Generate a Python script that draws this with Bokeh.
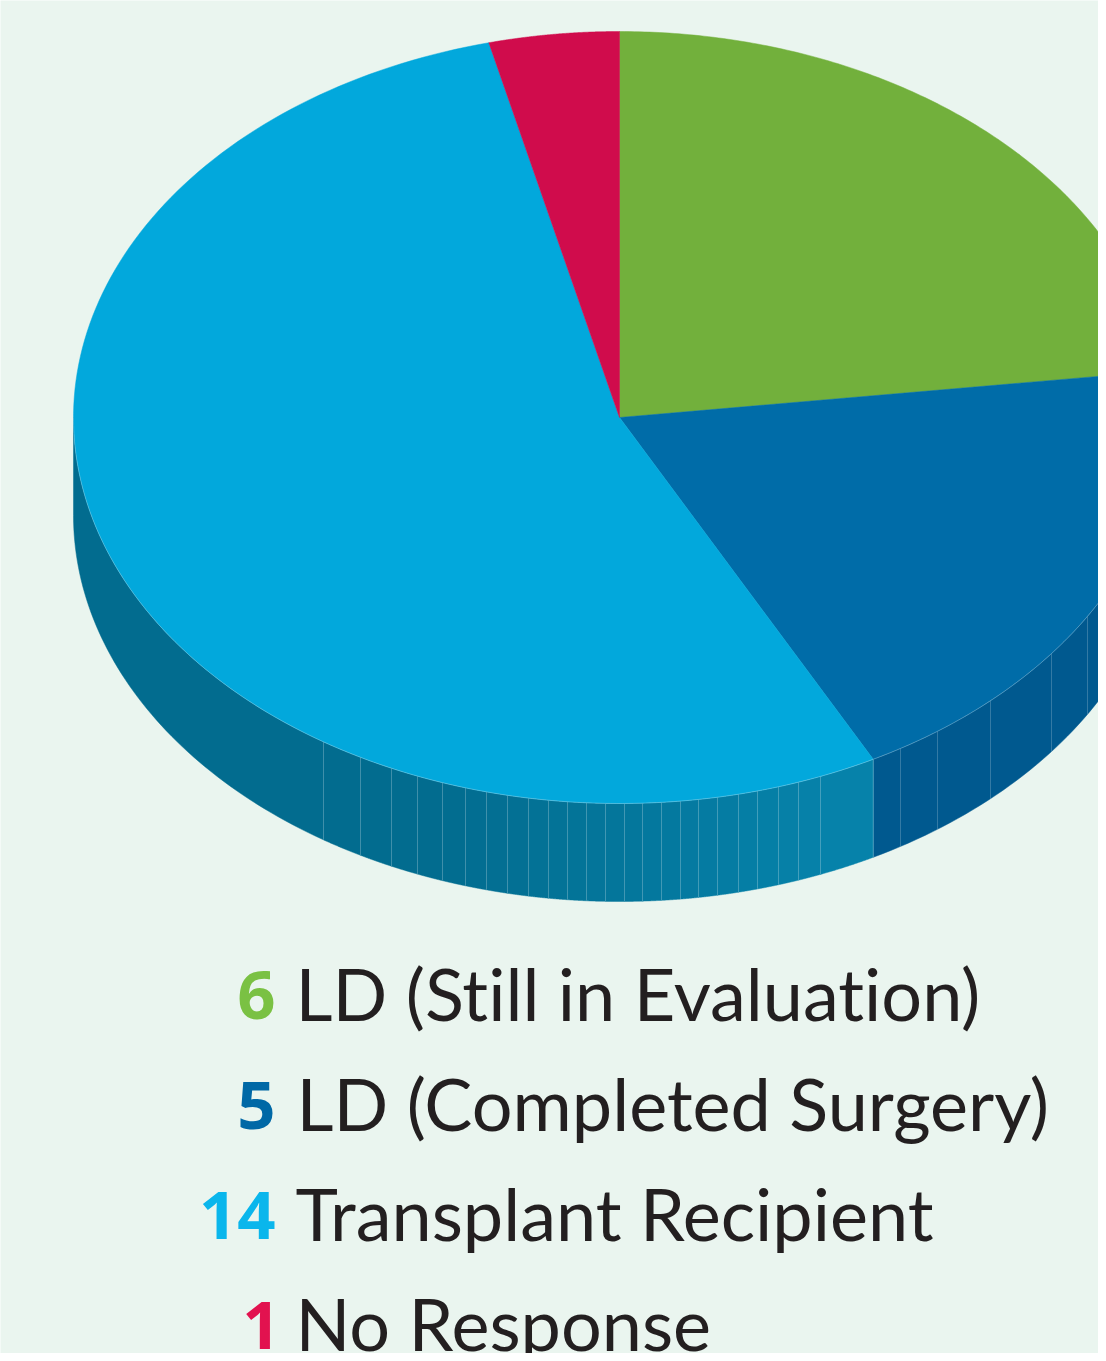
import numpy as np
from bokeh.core.properties import value
from bokeh.embed import file_html
from bokeh.models import Range1d
from bokeh.plotting import figure
from bokeh.resources import INLINE

labels = ["LD (Still in Evaluation)", "LD (Completed Surgery)", "Transplant Recipient", "No Response"]
counts = [6, 5, 14, 1]
top_colors = ["#72b03c", "#006ca8", "#02a8dc", "#d00c4c"]
number_colors = ["#7ac143", "#0068a6", "#0ab6ec", "#e2124f"]
surgery_side_color = "#00598f"
recipient_side_dark = (2, 108, 143)
recipient_side_light = (6, 130, 170)
facet_edges_recipient = [323, 360, 391, 417, 442, 465, 486, 507, 528, 548, 567, 586, 605, 624, 642, 661, 680,
                         698, 717, 738, 757, 778, 798, 820]
facet_edges_surgery = [900, 937, 990, 1051, 1087]
background_corners = [(236, 246, 242), (233, 244, 238), (236, 246, 241), (231, 242, 232)]

W, H = 1098, 1353
CX, CY, RX, RY, DEPTH = 619.0, 417.0, 546.0, 386.0, 98.0
LABEL_NUDGE = -29
NUMBER_NUDGE = -26


def ex(t):
    return CX + RX * np.sin(t)


def ey(t):
    return CY - RY * np.cos(t)


p = figure(width=W, height=H, output_backend="svg", toolbar_location=None,
           x_range=Range1d(0, W), y_range=Range1d(H, 0), min_border=0,
           border_fill_color="#eaf5ef", background_fill_color="#eaf5ef", outline_line_color=None)
p.axis.visible = False
p.grid.visible = False
p.styles = {"font-variant-ligatures": "none"}

n = 48
u, v = np.meshgrid(np.linspace(0, 1, n), np.linspace(0, 1, n))
c = np.array(background_corners, dtype=float)
rgba = np.zeros((n, n), dtype=np.uint32)
view = rgba.view(dtype=np.uint8).reshape((n, n, 4))
for k in range(3):
    view[:, :, k] = ((1-u)*(1-v)*c[0, k] + u*(1-v)*c[1, k] + (1-u)*v*c[2, k] + u*v*c[3, k]).astype(np.uint8)
view[:, :, 3] = 255
p.image_rgba(image=[rgba], x=0, y=H, dw=W, dh=H)

fractions = np.cumsum([0] + counts) / sum(counts)
angles = 2 * np.pi * fractions


def bottom_theta(x):
    return np.pi - np.arcsin(np.clip((x - CX) / RX, -1, 1))


def side_patch(t0, t1, color):
    t = np.linspace(t0, t1, 60)
    xs = np.concatenate([ex(t), ex(t[::-1])])
    ys = np.concatenate([ey(t), ey(t[::-1]) + DEPTH])
    p.patch(xs, ys, fill_color=color, line_color=color, line_width=0.5)


side_patch(max(angles[1], np.pi / 2), angles[2], surgery_side_color)

vis_end = 3 * np.pi / 2
edge_t = [angles[2]] + [bottom_theta(x) for x in reversed(facet_edges_recipient)] + [vis_end]
m = len(edge_t) - 1
for i in range(m):
    f = max(0.0, 1 - i / (m * 0.8))
    col = tuple(int(round(a + (b - a) * f)) for a, b in zip(recipient_side_dark, recipient_side_light))
    side_patch(edge_t[i], edge_t[i + 1], "#%02x%02x%02x" % col)

seam_x = facet_edges_recipient + facet_edges_surgery
seam_t = [bottom_theta(x) for x in seam_x]
p.segment(x0=[ex(t) for t in seam_t], y0=[ey(t) for t in seam_t],
          x1=[ex(t) for t in seam_t], y1=[ey(t) + DEPTH for t in seam_t],
          line_color="#ffffff", line_alpha=0.2, line_width=1)
p.segment(x0=[ex(angles[2])], y0=[ey(angles[2])], x1=[ex(angles[2])], y1=[ey(angles[2]) + DEPTH],
          line_color="#ffffff", line_alpha=0.25, line_width=1)

for i, color in enumerate(top_colors):
    t = np.linspace(angles[i], angles[i + 1], 160)
    xs = np.concatenate([[CX], ex(t)])
    ys = np.concatenate([[CY], ey(t)])
    p.patch(xs, ys, fill_color=color, line_color=color, line_width=0.5)

t = np.linspace(np.pi / 2, vis_end, 300)
p.line(ex(t), ey(t), line_color="#ffffff", line_alpha=0.25, line_width=1)

baselines = [1021, 1131, 1241, 1351]
number_x = [275, 275, 275, 280]
p.text(x=number_x, y=[b + NUMBER_NUDGE for b in baselines], text=[str(v_) for v_ in counts],
       text_color=number_colors, text_font=value("Open Sans"), text_font_style="bold",
       text_font_size="67px", text_align="right", text_baseline="alphabetic")
label_x = [295, 296, 295, 295]
p.text(x=label_x, y=[b + LABEL_NUDGE for b in baselines], text=labels, text_color="#231f20",
       text_font=value("Lato"), text_font_size="72px",
       text_align="left", text_baseline="alphabetic")

open("out.html", "w").write(file_html(p, INLINE))
